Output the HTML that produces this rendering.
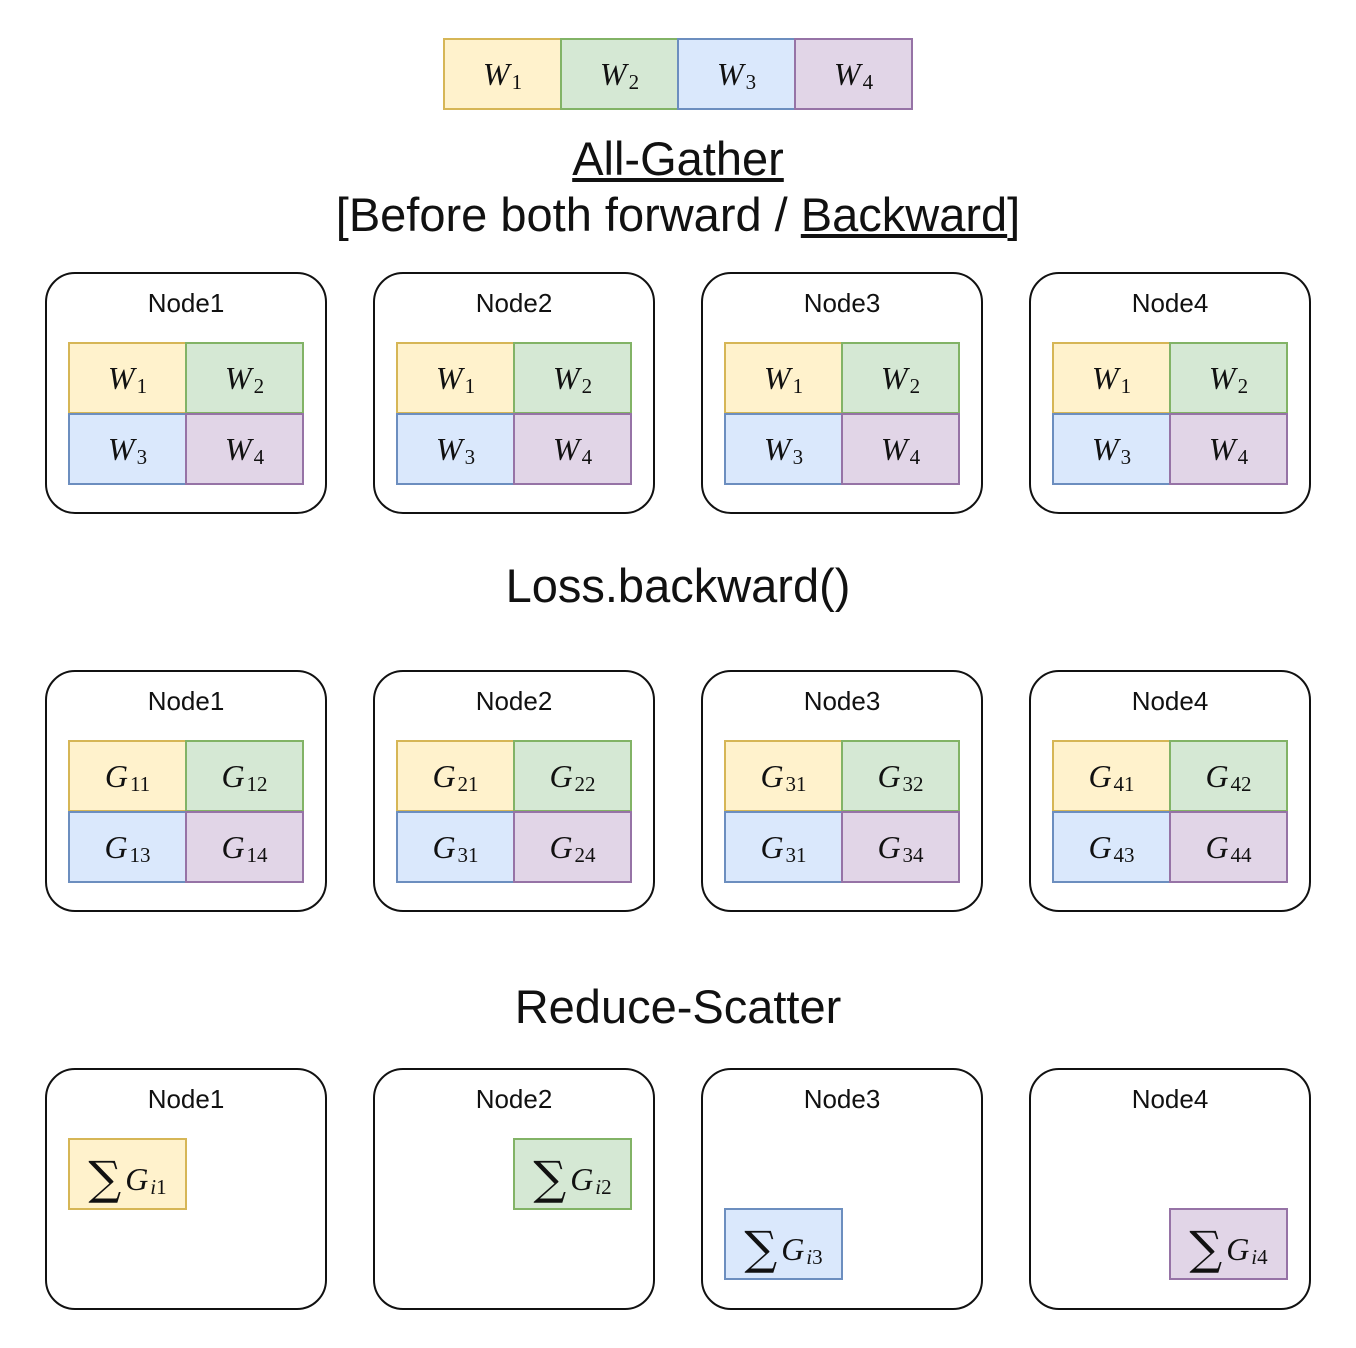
<!DOCTYPE html>
<html><head><style>
body{margin:0;width:1356px;height:1348px;background:#fff;position:relative;font-family:"Liberation Sans",sans-serif;overflow:hidden}
.a{position:absolute;box-sizing:border-box}
.node{border:2px solid #111;border-radius:30px;width:282px;height:242px}
.nl{position:absolute;width:282px;text-align:center;font-size:26px;color:#111}
.c{display:flex;align-items:center;justify-content:center;font-family:"Liberation Serif",serif;font-size:32px;color:#111;border-width:2px;border-style:solid;width:119px;height:72px}
.c>span{display:inline-block;white-space:nowrap}
.c i{font-style:italic}
.c sub{font-size:21px;position:relative;top:4px;vertical-align:baseline;font-style:normal;margin-left:2px}
.c sub i{font-style:italic}
.y{background:#fff2cc;border-color:#d6b656}
.g{background:#d5e8d4;border-color:#82b366}
.b{background:#dae8fc;border-color:#6c8ebf}
.p{background:#e1d5e7;border-color:#9673a6}
.t{position:absolute;width:1356px;text-align:center;color:#111;font-size:47px}
.s{font-size:46px;font-family:"DejaVu Serif","Liberation Serif",serif;margin-right:4px;position:relative;top:4px}
</style></head><body>
<div class="a c y" style="left:443px;top:38px"><span><i>W</i><sub>1</sub></span></div>
<div class="a c g" style="left:560px;top:38px"><span><i>W</i><sub>2</sub></span></div>
<div class="a c b" style="left:677px;top:38px"><span><i>W</i><sub>3</sub></span></div>
<div class="a c p" style="left:794px;top:38px"><span><i>W</i><sub>4</sub></span></div>
<div class="t" style="top:131px"><u>All-Gather</u></div>
<div class="t" style="top:187px">[Before both forward / <u>Backward</u>]</div>
<div class="t" style="top:558px">Loss.backward()</div>
<div class="t" style="top:979px">Reduce-Scatter</div>

<div class="a node" style="left:45px;top:272px"></div><div class="nl" style="left:45px;top:288px">Node1</div>
<div class="a node" style="left:373px;top:272px"></div><div class="nl" style="left:373px;top:288px">Node2</div>
<div class="a node" style="left:701px;top:272px"></div><div class="nl" style="left:701px;top:288px">Node3</div>
<div class="a node" style="left:1029px;top:272px"></div><div class="nl" style="left:1029px;top:288px">Node4</div>

<div class="a c y" style="left:68px;top:342px"><span><i>W</i><sub>1</sub></span></div><div class="a c g" style="left:185px;top:342px"><span><i>W</i><sub>2</sub></span></div>
<div class="a c b" style="left:68px;top:413px"><span><i>W</i><sub>3</sub></span></div><div class="a c p" style="left:185px;top:413px"><span><i>W</i><sub>4</sub></span></div>
<div class="a c y" style="left:396px;top:342px"><span><i>W</i><sub>1</sub></span></div><div class="a c g" style="left:513px;top:342px"><span><i>W</i><sub>2</sub></span></div>
<div class="a c b" style="left:396px;top:413px"><span><i>W</i><sub>3</sub></span></div><div class="a c p" style="left:513px;top:413px"><span><i>W</i><sub>4</sub></span></div>
<div class="a c y" style="left:724px;top:342px"><span><i>W</i><sub>1</sub></span></div><div class="a c g" style="left:841px;top:342px"><span><i>W</i><sub>2</sub></span></div>
<div class="a c b" style="left:724px;top:413px"><span><i>W</i><sub>3</sub></span></div><div class="a c p" style="left:841px;top:413px"><span><i>W</i><sub>4</sub></span></div>
<div class="a c y" style="left:1052px;top:342px"><span><i>W</i><sub>1</sub></span></div><div class="a c g" style="left:1169px;top:342px"><span><i>W</i><sub>2</sub></span></div>
<div class="a c b" style="left:1052px;top:413px"><span><i>W</i><sub>3</sub></span></div><div class="a c p" style="left:1169px;top:413px"><span><i>W</i><sub>4</sub></span></div>

<div class="a node" style="left:45px;top:670px"></div><div class="nl" style="left:45px;top:686px">Node1</div>
<div class="a node" style="left:373px;top:670px"></div><div class="nl" style="left:373px;top:686px">Node2</div>
<div class="a node" style="left:701px;top:670px"></div><div class="nl" style="left:701px;top:686px">Node3</div>
<div class="a node" style="left:1029px;top:670px"></div><div class="nl" style="left:1029px;top:686px">Node4</div>

<div class="a c y" style="left:68px;top:740px"><span><i>G</i><sub>11</sub></span></div><div class="a c g" style="left:185px;top:740px"><span><i>G</i><sub>12</sub></span></div>
<div class="a c b" style="left:68px;top:811px"><span><i>G</i><sub>13</sub></span></div><div class="a c p" style="left:185px;top:811px"><span><i>G</i><sub>14</sub></span></div>
<div class="a c y" style="left:396px;top:740px"><span><i>G</i><sub>21</sub></span></div><div class="a c g" style="left:513px;top:740px"><span><i>G</i><sub>22</sub></span></div>
<div class="a c b" style="left:396px;top:811px"><span><i>G</i><sub>31</sub></span></div><div class="a c p" style="left:513px;top:811px"><span><i>G</i><sub>24</sub></span></div>
<div class="a c y" style="left:724px;top:740px"><span><i>G</i><sub>31</sub></span></div><div class="a c g" style="left:841px;top:740px"><span><i>G</i><sub>32</sub></span></div>
<div class="a c b" style="left:724px;top:811px"><span><i>G</i><sub>31</sub></span></div><div class="a c p" style="left:841px;top:811px"><span><i>G</i><sub>34</sub></span></div>
<div class="a c y" style="left:1052px;top:740px"><span><i>G</i><sub>41</sub></span></div><div class="a c g" style="left:1169px;top:740px"><span><i>G</i><sub>42</sub></span></div>
<div class="a c b" style="left:1052px;top:811px"><span><i>G</i><sub>43</sub></span></div><div class="a c p" style="left:1169px;top:811px"><span><i>G</i><sub>44</sub></span></div>

<div class="a node" style="left:45px;top:1068px"></div><div class="nl" style="left:45px;top:1084px">Node1</div>
<div class="a node" style="left:373px;top:1068px"></div><div class="nl" style="left:373px;top:1084px">Node2</div>
<div class="a node" style="left:701px;top:1068px"></div><div class="nl" style="left:701px;top:1084px">Node3</div>
<div class="a node" style="left:1029px;top:1068px"></div><div class="nl" style="left:1029px;top:1084px">Node4</div>

<div class="a c y" style="left:68px;top:1138px"><span><span class="s">∑</span><i>G</i><sub><i>i</i>1</sub></span></div>
<div class="a c g" style="left:513px;top:1138px"><span><span class="s">∑</span><i>G</i><sub><i>i</i>2</sub></span></div>
<div class="a c b" style="left:724px;top:1208px"><span><span class="s">∑</span><i>G</i><sub><i>i</i>3</sub></span></div>
<div class="a c p" style="left:1169px;top:1208px"><span><span class="s">∑</span><i>G</i><sub><i>i</i>4</sub></span></div>
</body></html>
